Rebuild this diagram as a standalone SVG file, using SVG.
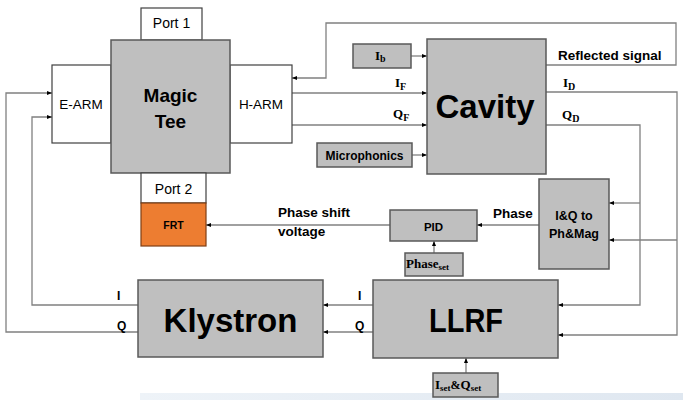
<svg xmlns="http://www.w3.org/2000/svg" width="683" height="400" viewBox="0 0 683 400">
<defs>
<marker id="arr" viewBox="0 0 10 10" refX="10" refY="5" markerWidth="5" markerHeight="5" orient="auto" markerUnits="userSpaceOnUse">
<path d="M0,1 L10,5 L0,9 Z" fill="#000"/>
</marker>
<linearGradient id="band" x1="0" x2="1" y1="0" y2="0">
<stop offset="0" stop-color="#eef3f8"/>
<stop offset="1" stop-color="#dfe7f0"/>
</linearGradient>
</defs>
<style>
.box{fill:#bfbfbf;stroke:#595959;stroke-width:1.5}
.wbox{fill:#fff;stroke:#404040;stroke-width:1.2}
.wire{fill:none;stroke:#808080;stroke-width:1.3}
.arrw{fill:none;stroke:#808080;stroke-width:1.3;marker-end:url(#arr)}
.t{font-family:"Liberation Sans",Arial,sans-serif;fill:#000}
.b{font-weight:bold}
.m{font-family:"Liberation Serif","DejaVu Serif",serif;font-weight:bold;fill:#000}
</style>
<rect width="683" height="400" fill="#fff"/>
<rect x="140" y="393" width="543" height="7" fill="url(#band)"/>

<g id="connectors">
<path class="arrw" d="M138,332 H6 V93 H52"/>
<path class="arrw" d="M138,305 H32 V117 H52"/>
<path class="arrw" d="M546,65 H676 V23 H326 V78 H292"/>
<path class="arrw" d="M292,93 H427"/>
<path class="arrw" d="M292,125 H427"/>
<path class="arrw" d="M411,56 H427"/>
<path class="arrw" d="M412,155 H427"/>
<path class="arrw" d="M546,92 H677 V335 H558"/>
<path class="arrw" d="M677,240 H609"/>
<path class="arrw" d="M546,125 H640 V305 H558"/>
<path class="arrw" d="M640,203 H609"/>
<path class="arrw" d="M539,225 H477"/>
<path class="arrw" d="M390,225 H206"/>
<path class="arrw" d="M434,253 V241"/>
<path class="arrw" d="M466,373 V358"/>
<path class="arrw" d="M373,305 H323"/>
<path class="arrw" d="M373,332 H323"/>
<text class="t b" x="558" y="60" font-size="13.5">Reflected signal</text>
<text class="m" x="395" y="87" font-size="13">I<tspan font-size="10" dy="3">F</tspan></text>
<text class="m" x="393" y="118" font-size="13">Q<tspan font-size="10" dy="3">F</tspan></text>
<text class="m" x="563" y="87" font-size="13">I<tspan font-size="10" dy="3">D</tspan></text>
<text class="m" x="562" y="119" font-size="13">Q<tspan font-size="10" dy="3">D</tspan></text>
<text class="t b" x="278" y="217" font-size="13.5">Phase shift</text>
<text class="t b" x="278" y="236" font-size="13.5">voltage</text>
<text class="t b" x="493" y="218" font-size="13.5">Phase</text>
<text class="t b" x="117" y="300" font-size="12">I</text>
<text class="t b" x="117" y="330" font-size="12">Q</text>
<text class="t b" x="358" y="300" font-size="12">I</text>
<text class="t b" x="355" y="330" font-size="12">Q</text>
</g>

<g id="port1">
<rect class="wbox" x="141" y="8" width="61" height="32"/>
<text class="t" x="171.5" y="28" font-size="14" text-anchor="middle">Port 1</text>
</g>
<g id="e-arm">
<rect class="wbox" x="52" y="65" width="59" height="78"/>
<text class="t" x="81" y="109" font-size="13.5" text-anchor="middle">E-ARM</text>
</g>
<g id="h-arm">
<rect class="wbox" x="230" y="65" width="62" height="78"/>
<text class="t" x="261" y="109" font-size="13.5" text-anchor="middle">H-ARM</text>
</g>
<g id="magic-tee">
<rect class="box" x="111" y="40" width="119" height="133"/>
<text class="t b" x="170.5" y="102" font-size="19" text-anchor="middle">Magic</text>
<text class="t b" x="170.5" y="128" font-size="19" text-anchor="middle">Tee</text>
</g>
<g id="port2">
<rect class="wbox" x="141" y="173" width="65" height="30"/>
<text class="t" x="173.5" y="194" font-size="14" text-anchor="middle">Port 2</text>
</g>
<g id="frt">
<rect x="141" y="203" width="65" height="43" fill="#ed7d31" stroke="#7f3f14" stroke-width="1.2"/>
<text class="t b" x="173.5" y="229" font-size="10.5" text-anchor="middle" fill="#202020">FRT</text>
</g>
<g id="ib">
<rect class="box" x="353" y="44" width="58" height="24"/>
<text class="m" x="375" y="60" font-size="13">I<tspan font-size="10" dy="2">b</tspan></text>
</g>
<g id="microphonics">
<rect class="box" x="317" y="143" width="95" height="24"/>
<text class="t b" x="364.5" y="159.5" font-size="12" text-anchor="middle">Microphonics</text>
</g>
<g id="cavity">
<rect class="box" x="427" y="39" width="119" height="135"/>
<text class="t b" x="485" y="118" font-size="33" text-anchor="middle">Cavity</text>
</g>
<g id="iq-to-phmag">
<rect class="box" x="539" y="179" width="70" height="90"/>
<text class="t b" x="574" y="220" font-size="12.5" text-anchor="middle">I&amp;Q to</text>
<text class="t b" x="574" y="238" font-size="12.5" text-anchor="middle">Ph&amp;Mag</text>
</g>
<g id="pid">
<rect class="box" x="390" y="210" width="87" height="31"/>
<text class="t b" x="433.5" y="231" font-size="11.5" text-anchor="middle">PID</text>
</g>
<g id="phase-set">
<rect class="box" x="405" y="253" width="58" height="23"/>
<text class="m" x="406" y="268" font-size="13">Phase<tspan font-size="9" dy="2">set</tspan></text>
</g>
<g id="klystron">
<rect class="box" x="138" y="280" width="185" height="77"/>
<text class="t b" x="230.5" y="332" font-size="33" text-anchor="middle">Klystron</text>
</g>
<g id="llrf">
<rect class="box" x="373" y="280" width="185" height="78"/>
<text class="t b" x="466" y="332" font-size="34" text-anchor="middle" textLength="74" lengthAdjust="spacingAndGlyphs">LLRF</text>
</g>
<g id="iset-qset">
<rect class="box" x="433" y="373" width="65" height="24"/>
<text class="m" x="435" y="389" font-size="13">I<tspan font-size="9" dy="2">set</tspan><tspan font-size="12" dy="-2">&amp;</tspan>Q<tspan font-size="9" dy="2">set</tspan></text>
</g>
</svg>
